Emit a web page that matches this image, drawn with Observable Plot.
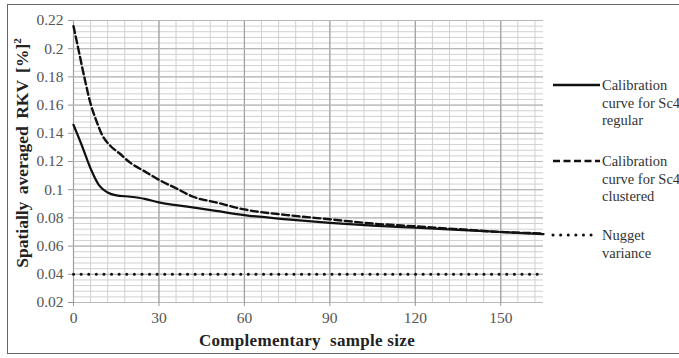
<!DOCTYPE html>
<html>
<head>
<meta charset="utf-8">
<script src="https://cdn.jsdelivr.net/npm/d3@7"></script>
<script src="https://cdn.jsdelivr.net/npm/@observablehq/plot@0.6"></script>
<style>
  html, body { margin: 0; padding: 0; background: #fff; overflow: hidden; }
  #wrap { position: relative; width: 679px; height: 358px; }
  #frame { position: absolute; left: 7px; top: 4px; width: 700px; height: 350px;
           border: 1.5px solid #666; border-right: none; box-sizing: border-box; pointer-events: none; }
</style>
</head>
<body>
<div id="wrap"><div id="frame"></div></div>
<script>
// ---- data ----
const regularX = [0, 3, 6, 9, 12, 15, 20, 25, 30, 40, 50, 60, 75, 90, 105, 120, 135, 150, 165];
const regularY = [0.146, 0.131, 0.115, 0.103, 0.098, 0.096, 0.095, 0.0935, 0.091, 0.088, 0.085, 0.082, 0.079, 0.0765, 0.0745, 0.073, 0.0715, 0.070, 0.0685];

const clusteredX = [0, 2, 4, 6, 8, 10, 13, 16, 20, 25, 30, 36, 42, 50, 60, 75, 90, 105, 120, 135, 150, 165];
const clusteredY = [0.216, 0.197, 0.178, 0.161, 0.149, 0.139, 0.131, 0.126, 0.119, 0.113, 0.107, 0.101, 0.095, 0.091, 0.086, 0.082, 0.079, 0.076, 0.074, 0.072, 0.070, 0.069];

const nuggetX = [0, 165];
const nuggetY = [0.04, 0.04];

const xTicks = [0, 30, 60, 90, 120, 150];
const yTicks = [0.02, 0.04, 0.06, 0.08, 0.1, 0.12, 0.14, 0.16, 0.18, 0.2, 0.22];
const yTickLabels = ["0.02", "0.04", "0.06", "0.08", "0.1", "0.12", "0.14", "0.16", "0.18", "0.2", "0.22"];

const xLabel = "Complementary  sample size";
const yLabel = "Spatially averaged RKV [%]";
const legendItems = [
  { lines: ["Calibration", "curve for Sc4", "regular"], dash: null },
  { lines: ["Calibration", "curve for Sc4", "clustered"], dash: "7,3.5" },
  { lines: ["Nugget", "variance"], dash: "0.1,7.5" }
];

const FONT = "Liberation Serif";

// ---- build tables ----
const regular = regularX.map((x, i) => ({ x, y: regularY[i] }));
const clustered = clusteredX.map((x, i) => ({ x, y: clusteredY[i] }));
const nugget = nuggetX.map((x, i) => ({ x, y: nuggetY[i] }));
const minorX = d3.range(0, 166, 6);
const minorY = d3.range(0, 51).map(i => 0.02 + i * 0.004);

const chart = Plot.plot({
  width: 679,
  height: 358,
  marginLeft: 73,
  marginRight: 136,
  marginTop: 20,
  marginBottom: 56,
  style: { fontFamily: FONT, fontSize: "15px", color: "#555", background: "transparent", overflow: "hidden" },
  x: { domain: [0, 165] },
  y: { domain: [0.02, 0.22] },
  marks: [
    Plot.ruleX(minorX, { stroke: "#d0d0d0", strokeWidth: 1 }),
    Plot.ruleY(minorY, { stroke: "#d0d0d0", strokeWidth: 1 }),
    Plot.ruleX(xTicks, { stroke: "#a0a0a0", strokeWidth: 1.2 }),
    Plot.ruleY(yTicks, { stroke: "#b8b8b8", strokeWidth: 1.2 }),
    Plot.axisX({ ticks: xTicks, tickSize: 4, tickPadding: 5, label: null, stroke: "#999", fill: "#555", fontSize: 15.5, fontFamily: FONT }),
    Plot.axisY({ ticks: yTicks, tickSize: 5, tickPadding: 5, label: null, stroke: "#999", fill: "#555", fontSize: 15.5, fontFamily: FONT,
                 tickFormat: d => yTickLabels[yTicks.indexOf(d)] }),
    Plot.line(nugget, { x: "x", y: "y", stroke: "#111", strokeWidth: 3, strokeDasharray: "0.1,7.5", strokeLinecap: "round" }),
    Plot.line(clustered, { x: "x", y: "y", curve: "monotone-x", stroke: "#111", strokeWidth: 2.4, strokeDasharray: "7,3.5" }),
    Plot.line(regular, { x: "x", y: "y", curve: "monotone-x", stroke: "#111", strokeWidth: 2.2 })
  ]
});

document.getElementById("wrap").prepend(chart);

// ---- titles and legend ----
const svg = d3.select(chart);
svg.append("text")
  .attr("x", 307).attr("y", 346)
  .attr("text-anchor", "middle")
  .attr("font-family", FONT)
  .attr("font-weight", "bold")
  .attr("font-size", 17)
  .attr("fill", "#222")
  .attr("xml:space", "preserve")
  .style("white-space", "pre")
  .style("letter-spacing", "0.3px")
  .text(xLabel);

const yt = svg.append("text")
  .attr("transform", "translate(28,153) rotate(-90)")
  .attr("text-anchor", "middle")
  .attr("font-family", FONT)
  .attr("font-weight", "bold")
  .attr("font-size", 17.5)
  .attr("fill", "#222")
  .style("word-spacing", "3px");
yt.append("tspan").text(yLabel);
yt.append("tspan").attr("dy", -7).attr("font-size", 11).text("2");

const legendTop = [86, 162, 236];
legendItems.forEach((item, i) => {
  const y0 = legendTop[i];
  const dotted = item.dash === "0.1,7.5";
  const ln = svg.append("line")
    .attr("x1", 553).attr("x2", dotted ? 595 : 600)
    .attr("y1", y0 - 1).attr("y2", y0 - 1)
    .attr("stroke", "#111")
    .attr("stroke-width", dotted ? 3 : 2.4);
  if (item.dash) ln.attr("stroke-dasharray", item.dash);
  if (dotted) ln.attr("stroke-linecap", "round");
  item.lines.forEach((t, j) => {
    svg.append("text")
      .attr("x", 602).attr("y", y0 + 17.5 * j + 4)
      .attr("text-anchor", "start")
      .attr("font-family", FONT)
      .attr("font-size", 14.5)
      .attr("fill", "#333")
      .text(t);
  });
});
svg.selectAll("text").style("font-family", FONT);
</script>
</body>
</html>
